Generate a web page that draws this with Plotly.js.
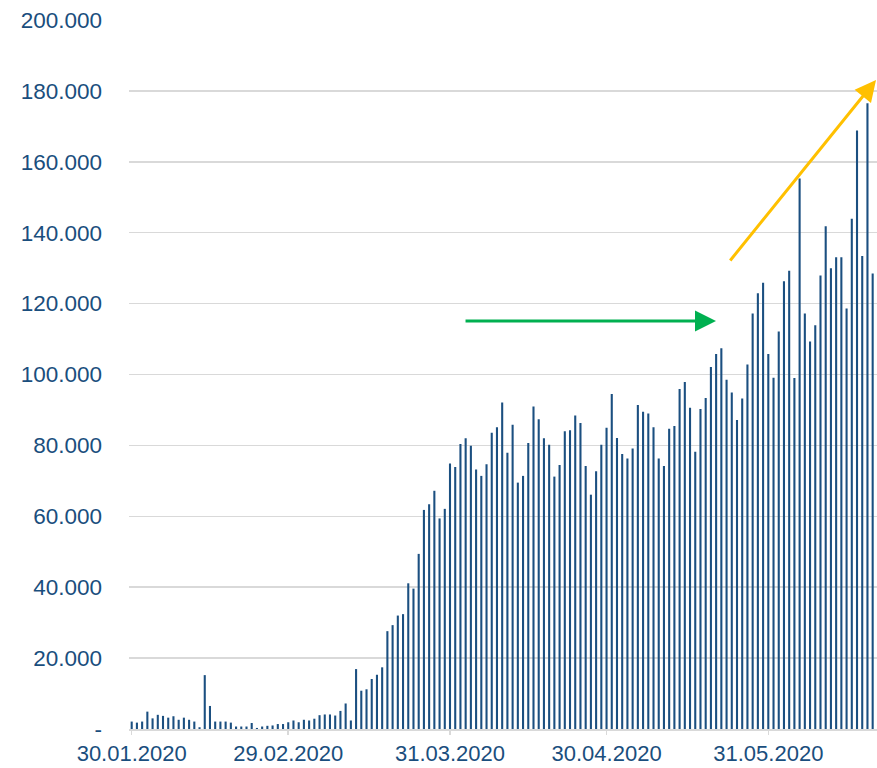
<!DOCTYPE html>
<html>
<head>
<meta charset="utf-8">
<script src="https://cdn.plot.ly/plotly-3.0.1.min.js"></script>
<style>
  html, body { margin: 0; padding: 0; background: #ffffff; }
  #chart { width: 877px; height: 768px; }
</style>
</head>
<body>
<div id="chart"></div>
<script>
// First reporting day; one bar per consecutive day
const startDate = '2020-01-30';

// Daily new cases
const dailyCases = [
  2100, 1800, 2100, 4900, 3000, 4000, 3700, 3200, 3600, 2600,
  3200, 2600, 2100, 500, 15200, 6500, 2100, 2100, 2100, 1800,
  700, 700, 700, 1700, 300, 700, 900, 1000, 1400, 1400,
  1900, 2400, 1900, 2600, 2400, 2900, 3900, 4100, 4100, 3800,
  5100, 7200, 2400, 16900, 10800, 11200, 14100, 15300, 17400, 27600,
  29300, 32000, 32400, 41100, 39600, 49400, 61800, 63400, 67200, 59400,
  62100, 74900, 73900, 80400, 82000, 79900, 73200, 71400, 74700, 83600,
  85100, 92100, 77900, 85800, 69500, 71400, 80700, 91000, 87400, 82000,
  80200, 71200, 74500, 84000, 84300, 88400, 86300, 74200, 66100, 72700,
  80200, 85000, 94500, 82100, 77600, 76300, 79100, 91400, 89500, 89000,
  85100, 76300, 74200, 84700, 85500, 95900, 97900, 90600, 78200, 90300,
  93400, 102100, 105800, 107400, 98500, 94900, 87200, 93200, 102800, 117200,
  122900, 125900, 105800, 99100, 112100, 126300, 129300, 99000, 155300, 117200,
  109300, 113900, 127900, 141800, 130000, 133100, 133100, 118600, 143900, 168800,
  133400, 176500, 128500
];

// Axis ticks
const xTickDates = ['2020-01-30', '2020-02-29', '2020-03-31', '2020-04-30', '2020-05-31'];
const xTickLabels = ['30.01.2020', '29.02.2020', '31.03.2020', '30.04.2020', '31.05.2020'];
const yTickValues = [0, 20000, 40000, 60000, 80000, 100000, 120000, 140000, 160000, 180000, 200000];
const yTickLabels = ['-', '20.000', '40.000', '60.000', '80.000', '100.000', '120.000', '140.000', '160.000', '180.000', '200.000'];

// Build the consecutive date categories
const dates = [];
{
  const d0 = new Date(startDate + 'T00:00:00Z');
  for (let i = 0; i < dailyCases.length; i++) {
    const d = new Date(d0.getTime() + i * 86400000);
    dates.push(d.toISOString().slice(0, 10));
  }
}

const textColor = '#1a4e7d';
const barColor = '#1b4f80';
const font = 'Liberation Sans, Arial, sans-serif';

const trace = {
  type: 'bar',
  x: dates,
  y: dailyCases,
  marker: { color: barColor, line: { width: 0 } },
  hoverinfo: 'x+y'
};

const layout = {
  width: 877,
  height: 768,
  margin: { l: 129, r: 0, t: 20, b: 39 },
  paper_bgcolor: '#ffffff',
  plot_bgcolor: '#ffffff',
  bargap: 0.6,
  showlegend: false,
  font: { family: font, size: 22, color: textColor },
  xaxis: {
    type: 'date',
    range: ['2020-01-29 11:35', '2020-06-20 19:55'],
    tickmode: 'array',
    tickvals: xTickDates,
    ticktext: xTickLabels,
    ticks: 'outside',
    ticklen: 4,
    tickwidth: 1.5,
    tickcolor: '#d9d9d9',
    showline: true,
    linecolor: '#d9d9d9',
    linewidth: 1.5,
    showgrid: false,
    zeroline: false,
    tickfont: { family: font, size: 22, color: textColor },
    ticklabelstandoff: 0
  },
  yaxis: {
    range: [0, 200000],
    tickmode: 'array',
    tickvals: yTickValues,
    ticktext: yTickLabels,
    showgrid: true,
    gridcolor: '#d9d9d9',
    gridwidth: 1.5,
    zeroline: false,
    showline: false,
    ticks: '',
    tickfont: { family: font, size: 22.5, color: textColor },
    ticklabelstandoff: 26
  },
  annotations: [
    {
      xref: 'paper', yref: 'paper',
      x: 0.7848, y: 0.5755,
      axref: 'pixel', ayref: 'pixel',
      ax: -252, ay: 0,
      text: '',
      showarrow: true,
      arrowhead: 2,
      arrowsize: 1.4,
      arrowwidth: 3,
      arrowcolor: '#00b050',
      standoff: 0
    },
    {
      xref: 'paper', yref: 'paper',
      x: 1.0, y: 0.9154,
      axref: 'pixel', ayref: 'pixel',
      ax: -148, ay: 182,
      text: '',
      showarrow: true,
      arrowhead: 2,
      arrowsize: 1.4,
      arrowwidth: 3,
      arrowcolor: '#ffc000',
      standoff: 0
    }
  ]
};

Plotly.newPlot('chart', [trace], layout, { displayModeBar: false, staticPlot: true });
</script>
</body>
</html>
